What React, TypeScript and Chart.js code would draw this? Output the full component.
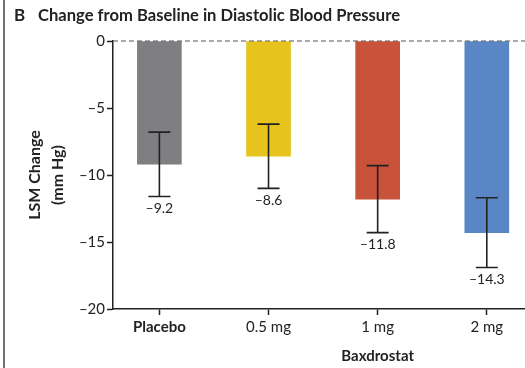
import React, { useEffect, useRef } from 'react';
import { Chart, registerables } from 'chart.js';
Chart.register(...registerables);

const categories = ['Placebo', '0.5 mg', '1 mg', '2 mg'];
const means = [-9.2, -8.6, -11.8, -14.3];
const upper = [-6.8, -6.2, -9.3, -11.7];
const lower = [-11.6, -11.0, -14.3, -16.9];
const colors = ['#7f7f82', '#e7c31e', '#c8523a', '#5b86c5'];
const yTicks = [0, -5, -10, -15, -20];
const titleLetter = 'B';
const titleText = 'Change from Baseline in Diastolic Blood Pressure';
const yTitle = ['LSM Change', '(mm Hg)'];
const groupTitle = 'Baxdrostat';

const FONT = 'Lato, "Open Sans", sans-serif';
const dash = (v: number, d = 0) => (v < 0 ? '\u2013' + Math.abs(v).toFixed(d) : v.toFixed(d));

export default function App() {
  const ref = useRef<HTMLCanvasElement>(null);
  useEffect(() => {
    document.body.style.margin = '0';
    const canvas = ref.current!;
    const overlay = {
      id: 'overlay',
      afterDatasetsDraw(chart: any) {
        const { ctx, chartArea } = chart;
        const x = chart.scales.x;
        const y = chart.scales.y;
        ctx.save();
        const y0 = y.getPixelForValue(0);
        ctx.setLineDash([5, 3]);
        ctx.strokeStyle = '#555';
        ctx.lineWidth = 1.2;
        ctx.beginPath();
        ctx.moveTo(chartArea.left, y0);
        ctx.lineTo(chartArea.right, y0);
        ctx.stroke();
        ctx.setLineDash([]);
        ctx.strokeStyle = '#222';
        ctx.lineWidth = 1.6;
        ctx.fillStyle = '#222';
        ctx.font = `14px ${FONT}`;
        ctx.textAlign = 'center';
        ctx.textBaseline = 'top';
        means.forEach((m, i) => {
          const px = x.getPixelForValue(i);
          const yHi = y.getPixelForValue(upper[i]);
          const yLo = y.getPixelForValue(lower[i]);
          ctx.beginPath();
          ctx.moveTo(px, yHi);
          ctx.lineTo(px, yLo);
          ctx.moveTo(px - 11, yHi);
          ctx.lineTo(px + 11, yHi);
          ctx.moveTo(px - 11, yLo);
          ctx.lineTo(px + 11, yLo);
          ctx.stroke();
          ctx.fillText(dash(m, 1), px, yLo + 5);
        });
        ctx.restore();
      },
      afterDraw(chart: any) {
        const { ctx, chartArea } = chart;
        const x = chart.scales.x;
        ctx.save();
        ctx.strokeStyle = '#444';
        ctx.lineWidth = 1.5;
        ctx.beginPath();
        ctx.moveTo(4, 0);
        ctx.lineTo(4, chart.height);
        ctx.stroke();
        ctx.fillStyle = '#222';
        ctx.textBaseline = 'middle';
        ctx.textAlign = 'left';
        ctx.font = `bold 17px ${FONT}`;
        ctx.fillText(titleLetter, 14, 16);
        ctx.font = `bold 17px ${FONT}`;
        ctx.fillText(titleText, 38, 16, 362);
        ctx.textAlign = 'center';
        ctx.font = `bold 15px ${FONT}`;
        const gx = (x.getPixelForValue(1) + x.getPixelForValue(3)) / 2;
        ctx.fillText(groupTitle, gx, chartArea.bottom + 47);
        ctx.restore();
      },
    };
    const chart = new Chart(canvas, {
      type: 'bar',
      data: {
        datasets: [
          {
            data: means.map((m, i) => ({ x: i, y: m })),
            backgroundColor: colors,
            borderWidth: 0,
            barThickness: 44,
          },
        ],
      },
      options: {
        animation: false,
        responsive: false,
        layout: { padding: { top: 41, left: 0, right: 0, bottom: 0 } },
        plugins: { legend: { display: false }, tooltip: { enabled: false }, title: { display: false } },
        scales: {
          x: {
            type: 'linear',
            offset: false,
            min: -0.425,
            max: 3.35,
            afterBuildTicks: (axis: any) => {
              axis.ticks = categories.map((_, i) => ({ value: i }));
            },
            afterFit: (scale: any) => {
              scale.height = 59;
            },
            ticks: {
              callback: (v: any) => categories[v] ?? '',
              color: '#222',
              padding: 3,
              autoSkip: false,
              maxRotation: 0,
              font: (c: any) => ({ family: FONT, size: 15, weight: c.index === 0 ? 'bold' : 'normal' }),
            },
            grid: { offset: false, drawOnChartArea: false, drawTicks: true, tickLength: 6, tickColor: '#222', tickWidth: 1.5 },
            border: { color: '#222', width: 1.5 },
          },
          y: {
            min: -20,
            max: 0,
            afterBuildTicks: (axis: any) => {
              axis.ticks = yTicks.map((v) => ({ value: v }));
            },
            afterFit: (scale: any) => {
              scale.width = 113;
            },
            ticks: {
              callback: (v: any) => dash(Number(v)),
              color: '#222',
              padding: 2,
              font: { family: FONT, size: 15 },
            },
            grid: { drawOnChartArea: false, drawTicks: true, tickLength: 6, tickColor: '#222', tickWidth: 1.5 },
            border: { color: '#222', width: 1.5 },
            title: {
              display: true,
              text: yTitle,
              color: '#222',
              font: { family: FONT, size: 16, weight: 'bold', lineHeight: 1.4 },
              padding: { top: 24, bottom: 0 },
            },
          },
        },
      },
      plugins: [overlay],
    } as any);
    return () => chart.destroy();
  }, []);
  return (
    <div style={{ width: 525, height: 368 }}>
      <canvas ref={ref} width={525} height={368} />
    </div>
  );
}
